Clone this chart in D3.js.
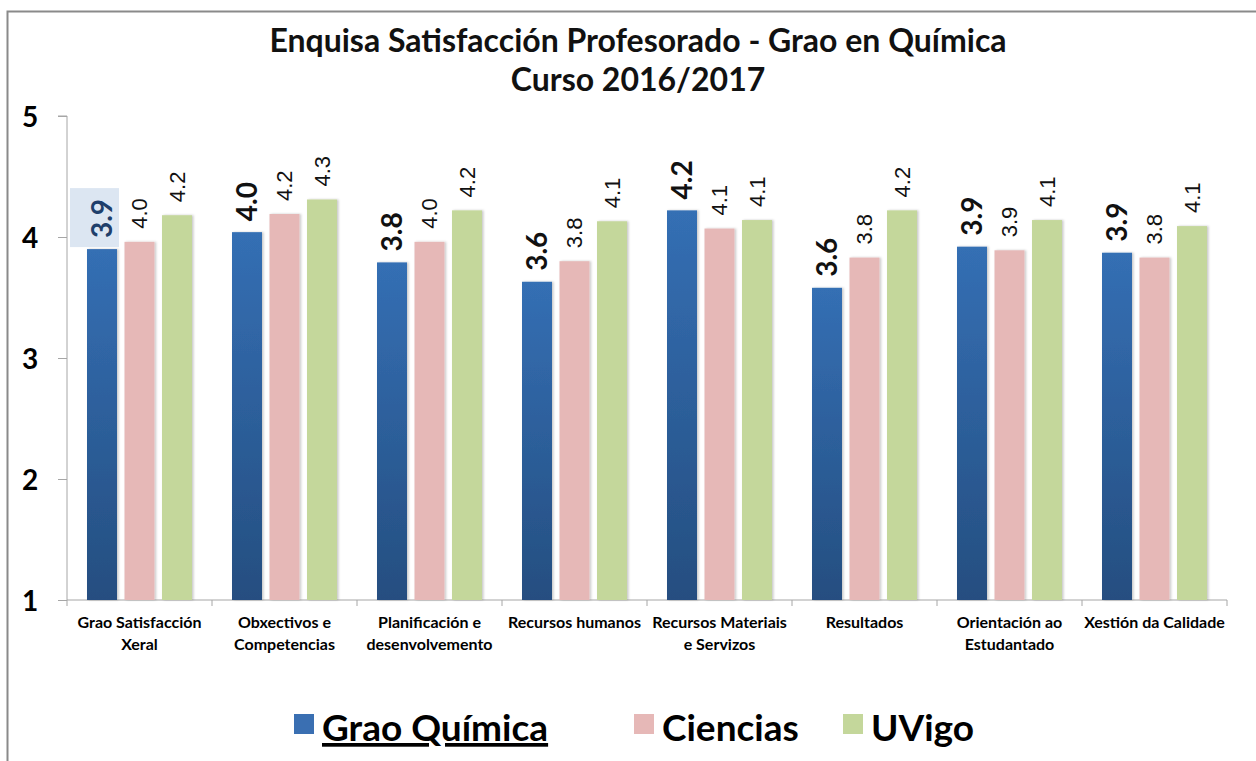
<!DOCTYPE html>
<html>
<head>
<meta charset="utf-8">
<script src="https://cdn.jsdelivr.net/npm/d3@7"></script>
<style>
  html, body { margin: 0; padding: 0; background: #fff; }
  svg { display: block; }
</style>
</head>
<body>
<svg id="chart" width="1256" height="761"></svg>
<script>
  'use strict';

  // chart values
  var categories = [
    ["Grao Satisfacción", "Xeral"],
    ["Obxectivos e", "Competencias"],
    ["Planificación e", "desenvolvemento"],
    ["Recursos humanos"],
    ["Recursos Materiais", "e Servizos"],
    ["Resultados"],
    ["Orientación ao", "Estudantado"],
    ["Xestión da Calidade"]
  ];
  var seriesNames = ["Grao Química", "Ciencias", "UVigo"];
  var graoQuimica = [3.90, 4.04, 3.79, 3.63, 4.22, 3.58, 3.92, 3.87];
  var ciencias    = [3.96, 4.19, 3.96, 3.80, 4.07, 3.83, 3.89, 3.83];
  var uvigo       = [4.18, 4.31, 4.22, 4.13, 4.14, 4.22, 4.14, 4.09];
  var yTicks = [1, 2, 3, 4, 5];
  var titleLines = ["Enquisa Satisfacción Profesorado - Grao en Química", "Curso 2016/2017"];

  var font = "Lato, 'Open Sans', sans-serif";
  var svg = d3.select("#chart");

  var data = categories.map(function(c, i) {
    return { cat: i, values: [graoQuimica[i], ciencias[i], uvigo[i]] };
  });

  var x0 = d3.scaleBand()
    .domain(d3.range(categories.length))
    .range([67, 1227])
    .padding(0);

  var x1 = d3.scaleBand()
    .domain(d3.range(seriesNames.length))
    .range([20, x0.bandwidth() - 20])
    .paddingInner(0.2);

  var y = d3.scaleLinear()
    .domain([1, 5])
    .range([600, 116]);

  // gradient and shadow
  var defs = svg.append("defs");
  var grad = defs.append("linearGradient")
    .attr("id", "blueGrad")
    .attr("x1", 0).attr("y1", 0).attr("x2", 0).attr("y2", 1);
  grad.append("stop").attr("offset", "0%").attr("stop-color", "#346fb4");
  grad.append("stop").attr("offset", "100%").attr("stop-color", "#254e80");

  var shadow = defs.append("filter").attr("id", "shadow")
    .attr("x", "-20%").attr("y", "-5%").attr("width", "150%").attr("height", "115%");
  shadow.append("feDropShadow")
    .attr("dx", 1.5).attr("dy", 0).attr("stdDeviation", 1.2)
    .attr("flood-color", "#000").attr("flood-opacity", 0.22);

  var colors = ["url(#blueGrad)", "#e6b8b7", "#c4d79b"];
  var legendColors = ["#3a6fb2", "#e6b8b7", "#c4d79b"];

  // frame
  svg.append("path")
    .attr("d", "M7.5,800 L7.5,11.5 L1300,11.5")
    .attr("fill", "none")
    .attr("stroke", "#8a8a8a")
    .attr("stroke-width", 2);

  // title
  svg.append("g").selectAll("text")
    .data(titleLines)
    .enter().append("text")
    .attr("x", 638)
    .attr("y", function(d, i) { return 52 + i * 39; })
    .attr("text-anchor", "middle")
    .attr("font-family", font)
    .attr("font-weight", "bold")
    .attr("font-size", 32)
    .attr("fill", "#111")
    .text(function(d) { return d; });

  // y axis
  var yAxis = svg.append("g")
    .attr("transform", "translate(67,0)")
    .call(d3.axisLeft(y).tickValues(yTicks).tickSize(9).tickFormat(d3.format("d")));
  yAxis.select(".domain").attr("stroke", "#a6a6a6").attr("d", "M-9," + y(5) + "H0V" + y(1));
  yAxis.selectAll(".tick line").attr("stroke", "#a6a6a6");
  yAxis.selectAll(".tick text")
    .attr("x", -37)
    .attr("dy", "0.36em")
    .attr("text-anchor", "middle")
    .attr("font-family", font)
    .attr("font-weight", "bold")
    .attr("font-size", 28)
    .attr("fill", "#000");

  // x axis
  var xAxis = svg.append("g").attr("transform", "translate(0," + y(1) + ")");
  xAxis.append("line")
    .attr("x1", 67).attr("x2", 1227)
    .attr("stroke", "#a6a6a6");
  xAxis.selectAll(".xtick")
    .data(d3.range(categories.length + 1))
    .enter().append("line")
    .attr("class", "xtick")
    .attr("x1", function(i) { return 67 + i * x0.step(); })
    .attr("x2", function(i) { return 67 + i * x0.step(); })
    .attr("y1", 0).attr("y2", 6)
    .attr("stroke", "#a6a6a6");

  var catLabels = xAxis.selectAll(".cat")
    .data(categories)
    .enter().append("text")
    .attr("class", "cat")
    .attr("text-anchor", "middle")
    .attr("font-family", font)
    .attr("font-weight", "bold")
    .attr("font-size", 16)
    .attr("fill", "#000")
    .attr("transform", function(d, i) { return "translate(" + (x0(i) + x0.bandwidth() / 2) + ",28)"; });
  catLabels.selectAll("tspan")
    .data(function(d) { return d; })
    .enter().append("tspan")
    .attr("x", 0)
    .attr("dy", function(d, i) { return i ? 22 : 0; })
    .text(function(d) { return d; });

  // bars
  var groups = svg.append("g")
    .selectAll("g")
    .data(data)
    .enter().append("g")
    .attr("transform", function(d) { return "translate(" + x0(d.cat) + ",0)"; });

  groups.selectAll("rect")
    .data(function(d) { return d.values.map(function(v, k) { return { k: k, v: v, cat: d.cat }; }); })
    .enter().append("rect")
    .attr("x", function(d) { return x1(d.k); })
    .attr("y", function(d) { return y(d.v); })
    .attr("width", x1.bandwidth())
    .attr("height", function(d) { return y(1) - y(d.v); })
    .attr("fill", function(d) { return colors[d.k]; })
    .attr("filter", "url(#shadow)");

  // selected label box (first category, Grao Química)
  groups.filter(function(d) { return d.cat === 0; })
    .append("rect")
    .attr("x", x1(0) - 17)
    .attr("y", y(graoQuimica[0]) - 61)
    .attr("width", 49)
    .attr("height", 59)
    .attr("fill", "#dce6f2");

  // value labels, rotated
  groups.selectAll(".val")
    .data(function(d) { return d.values.map(function(v, k) { return { k: k, v: v, cat: d.cat }; }); })
    .enter().append("text")
    .attr("class", "val")
    .attr("transform", function(d) {
      var cx = x1(d.k) + x1.bandwidth() / 2;
      var cy = y(d.v) - (d.k === 0 ? 11 : 13);
      return "translate(" + cx + "," + cy + ") rotate(-90)";
    })
    .attr("dy", "0.36em")
    .attr("text-anchor", "start")
    .attr("font-family", function(d) { return d.k === 0 ? font : "'Liberation Sans', Arial, sans-serif"; })
    .attr("font-weight", function(d) { return d.k === 0 ? "bold" : "normal"; })
    .attr("font-size", function(d) { return d.k === 0 ? 28 : 22; })
    .attr("fill", function(d) { return d.k === 0 && d.cat === 0 ? "#1f3f6b" : "#111"; })
    .text(function(d) { return d.v.toFixed(1); });

  // legend
  var legendX = [294, 634, 843];
  var legend = svg.append("g")
    .selectAll("g")
    .data(seriesNames)
    .enter().append("g")
    .attr("transform", function(d, i) { return "translate(" + legendX[i] + ",714)"; });

  legend.append("rect")
    .attr("width", 20)
    .attr("height", 20)
    .attr("fill", function(d, i) { return legendColors[i]; });

  legend.append("text")
    .attr("x", 28)
    .attr("y", 27)
    .attr("font-family", font)
    .attr("font-weight", "bold")
    .attr("font-size", 37)
    .attr("fill", "#000")
    .attr("text-decoration", function(d, i) { return i === 0 ? "underline" : null; })
    .text(function(d) { return d; });
</script>
</body>
</html>
